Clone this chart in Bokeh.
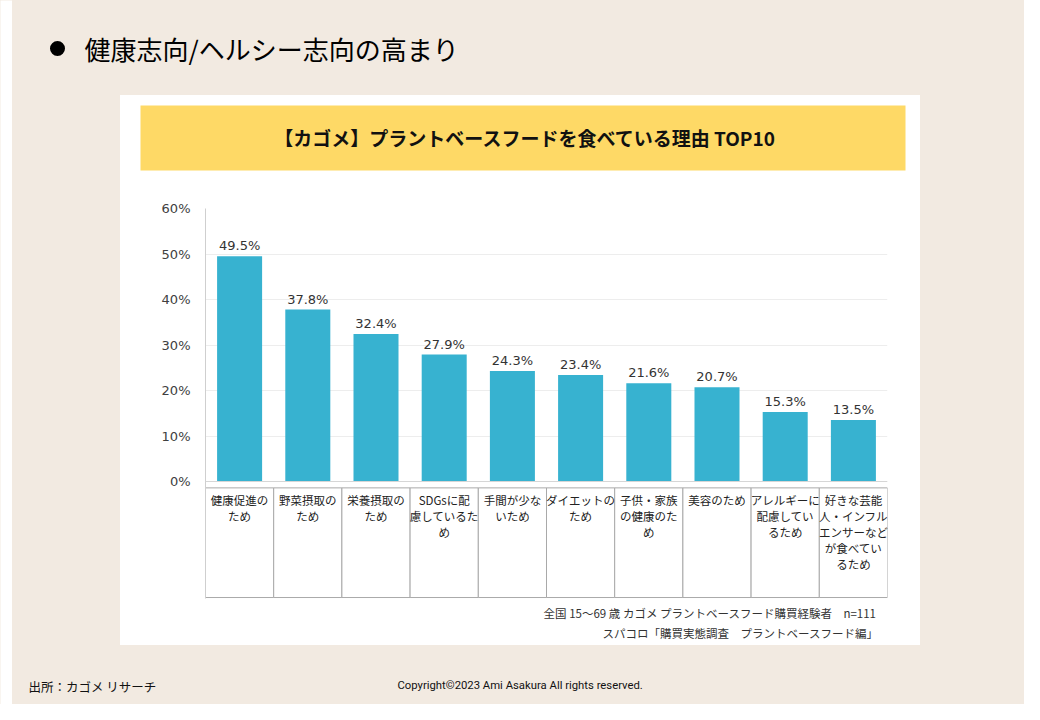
from bokeh.plotting import figure
from bokeh.layouts import column, row
from bokeh.models import ColumnDataSource, Range1d, FixedTicker, Span
from bokeh.core.properties import value
from bokeh.embed import file_html
from bokeh.resources import INLINE

# ---------------- data ----------------
categories = [
    "健康促進の\nため",
    "野菜摂取の\nため",
    "栄養摂取の\nため",
    "SDGsに配\n慮しているた\nめ",
    "手間が少な\nいため",
    "ダイエットの\nため",
    "子供・家族\nの健康のた\nめ",
    "美容のため",
    "アレルギーに\n配慮してい\nるため",
    "好きな芸能\n人・インフル\nエンサーなど\nが食べてい\nるため",
]
values = [49.5, 37.8, 32.4, 27.9, 24.3, 23.4, 21.6, 20.7, 15.3, 13.5]
y_ticks = [0, 10, 20, 30, 40, 50, 60]
y_tick_labels = {t: f"{t}%" for t in y_ticks}

page_title = "健康志向/ヘルシー志向の高まり"
chart_title = "【カゴメ】プラントベースフードを食べている理由 TOP10"
note_1 = "全国 15～69 歳 カゴメ プラントベースフード購買経験者　n=111"
note_2 = "スパコロ「購買実態調査　プラントベースフード編」"
source_text = "出所：カゴメ リサーチ"
copyright_text = "Copyright©2023 Ami Asakura All rights reserved."

# ---------------- styles ----------------
BEIGE = "#f2eae1"
BAR = "#37b2d0"
YELLOW = "#fed966"
JP = "Noto Sans CJK JP"
NUM = "DejaVu Sans"

STRIP = 12
W = 1012
PANEL_W = 800
PAD_L = 108
PAD_R = W - PAD_L - PANEL_W
GRAD = (f"linear-gradient(to right, {BEIGE} 0px, {BEIGE} {PAD_L}px, "
        f"white {PAD_L}px, white {PAD_L + PANEL_W}px, "
        f"{BEIGE} {PAD_L + PANEL_W}px)")


def canvas_fig(w, h, bg):
    f = figure(width=w, height=h, x_range=Range1d(0, w), y_range=Range1d(h, 0),
               x_axis_type=None, y_axis_type=None, toolbar_location=None,
               output_backend="svg", min_border=0)
    f.outline_line_color = None
    f.background_fill_color = bg
    f.border_fill_color = bg
    return f


def panel_row(fig, h):
    pl = canvas_fig(PAD_L, h, BEIGE)
    pr = canvas_fig(PAD_R, h, BEIGE)
    return row(pl, fig, pr, styles={"background": GRAD})


# ---------- white strip at the far left ----------
strip = canvas_fig(STRIP, 704, "white")

# ---------- heading ----------
head = canvas_fig(W, 95, BEIGE)
head.scatter(x=[45], y=[48], size=15, marker="circle", fill_color="black",
             line_color=None)
head.text(x=[72], y=[48], text=[page_title], text_font=value(JP),
          text_font_size="26px", text_color="#000000", text_baseline="middle")

# ---------- title bar ----------
tb = canvas_fig(PANEL_W, 95, "white")
tb.quad(left=[20], right=[785], top=[10], bottom=[75], fill_color=YELLOW,
        line_color=None)
tb.text(x=[405], y=[42], text=[chart_title], text_font=value(JP),
        text_font_size="19px", text_font_style="bold", text_color="#111111",
        text_align="center", text_baseline="middle")

# ---------- chart ----------
TABLE_TOP = -1.4
TABLE_BOTTOM = -25.5
LABEL_TOP = -2.3

xs = list(range(1, len(values) + 1))
src = ColumnDataSource(dict(
    x=xs,
    top=values,
    cat=categories,
    vlabel=[f"{v}%" for v in values],
    left=[x - 0.5 for x in xs],
    right=[x + 0.5 for x in xs],
    ttop=[TABLE_TOP] * len(xs),
    tbot=[TABLE_BOTTOM] * len(xs),
    ly=[LABEL_TOP] * len(xs),
))

p = figure(width=PANEL_W, height=410, output_backend="svg",
           toolbar_location=None, x_axis_type=None,
           x_range=Range1d(0.5, len(values) + 0.5),
           y_range=Range1d(-25.71, 60),
           min_border_left=85, min_border_right=33,
           min_border_top=18, min_border_bottom=2)
p.border_fill_color = "white"
p.background_fill_color = "white"
p.outline_line_color = None

p.yaxis.ticker = FixedTicker(ticks=y_ticks)
p.yaxis.major_label_overrides = y_tick_labels
p.yaxis.major_tick_line_color = None
p.yaxis.minor_tick_line_color = None
p.yaxis.axis_line_color = "#cfcfcf"
p.yaxis.axis_line_width = 1
p.yaxis.major_label_text_font = NUM
p.yaxis.major_label_text_font_size = "13px"
p.yaxis.major_label_text_color = "#404040"
p.yaxis.major_label_standoff = 9
p.ygrid.ticker = FixedTicker(ticks=y_ticks)
p.ygrid.grid_line_color = "#ededed"
p.ygrid.grid_line_width = 1

# category table
p.quad(left="left", right="right", top="ttop", bottom="tbot", source=src,
       fill_color="white", line_color="#a9a9a9", line_width=1)
p.text(x="x", y="ly", text="cat", source=src, text_align="center",
       text_baseline="top", text_font_size="11.5px", text_color="#222222",
       text_line_height=1.0, text_font=value(JP))

# baseline
p.add_layout(Span(location=0, dimension="width", line_color="#d6d6d6",
                  line_width=1))

# bars
p.vbar(x="x", top="top", bottom=0, width=0.66, source=src,
       fill_color=BAR, line_color=None)
p.text(x="x", y="top", text="vlabel", source=src, text_align="center",
       text_baseline="bottom", y_offset=-3, text_font_size="13px",
       text_color="#333333", text_font=value(NUM))

# ---------- notes ----------
notes = canvas_fig(PANEL_W, 45, "white")
notes.text(x=[756, 758], y=[12, 32], text=[note_1, note_2],
           text_font=value(JP), text_font_size="11.5px", text_color="#333333",
           text_align="right", text_baseline="middle")

# ---------- footer ----------
foot = canvas_fig(W, 59, BEIGE)
foot.text(x=[16], y=[41], text=[source_text], text_font=value(JP),
          text_font_size="12.5px", text_color="#111111",
          text_baseline="middle")
foot.text(x=[385], y=[40], text=[copyright_text],
          text_font=value("Roboto"), text_font_size="11.3px",
          text_color="#111111", text_baseline="middle")

main = column(
    head,
    panel_row(tb, 95),
    panel_row(p, 410),
    panel_row(notes, 45),
    foot,
    styles={"background-color": BEIGE},
)
layout = row(strip, main, styles={"background-color": BEIGE})

open("out.html", "w").write(file_html(layout, INLINE))
